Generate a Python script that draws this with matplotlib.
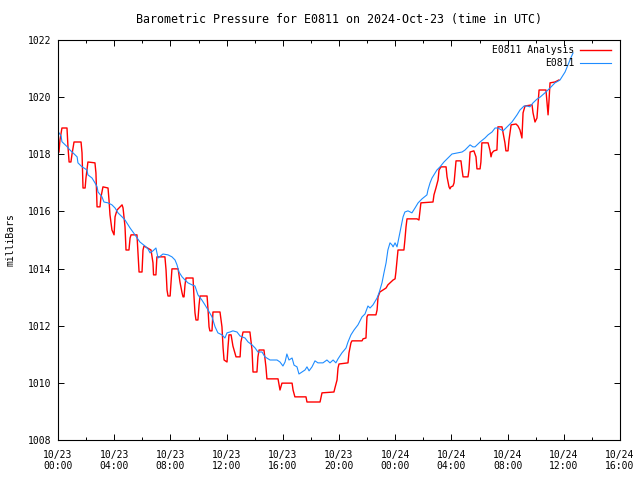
import matplotlib
matplotlib.use("Agg")
import matplotlib.pyplot as plt

# E0811 observed pressure (hours since 10/23 00:00 UTC, mb)
obs_hours = [0.07, 0.22, 0.28, 0.64, 0.85, 1.07, 1.36, 1.42, 1.71, 1.85,
             2.06, 2.13, 2.42, 2.63, 2.78, 2.85, 3.13, 3.27, 3.56, 3.84,
             4.06, 4.27, 4.56, 4.77, 5.13, 5.48, 5.83, 6.19, 6.40, 6.55,
             6.76, 6.97, 7.12, 7.47, 7.83, 8.11, 8.33, 8.47, 8.61, 8.83,
             9.04, 9.25, 9.54, 9.75, 9.96, 10.24, 10.46, 10.68, 10.96, 11.18,
             11.38, 11.67, 11.88, 12.03, 12.24, 12.45, 12.74, 12.96, 13.31, 13.53,
             13.81, 14.03, 14.23, 14.52, 14.73, 15.09, 15.59, 15.80, 16.01, 16.16,
             16.29, 16.44, 16.66, 16.80, 17.01, 17.15, 17.37, 17.58, 17.72, 17.87,
             18.08, 18.29, 18.50, 18.86, 19.14, 19.36, 19.58, 19.78, 19.93, 20.21,
             20.50, 20.64, 20.85, 21.07, 21.35, 21.64, 21.85, 22.06, 22.21, 22.42,
             22.71, 22.85, 23.06, 23.20, 23.35, 23.48, 23.63, 23.77, 23.85, 23.99,
             24.13, 24.20, 24.34, 24.56, 24.69, 24.91, 25.19, 25.41, 25.63, 25.91,
             26.26, 26.33, 26.48, 26.62, 26.97, 27.19, 27.47, 27.76, 28.04, 28.47,
             28.76, 28.97, 29.33, 29.53, 29.68, 30.04, 30.39, 30.61, 30.89, 31.11,
             31.31, 31.68, 31.96, 32.31, 32.67, 32.88, 33.17, 33.39, 33.59, 33.81,
             34.09, 34.31, 34.66, 35.02, 35.37, 35.73, 36.09, 36.44, 36.66]
obs_mb = [1018.75, 1018.64, 1018.44, 1018.27, 1018.15, 1018.05, 1017.91, 1017.70, 1017.56, 1017.52,
          1017.45, 1017.28, 1017.17, 1017.00, 1016.86, 1016.68, 1016.51, 1016.33, 1016.30, 1016.23,
          1016.12, 1015.95, 1015.81, 1015.70, 1015.42, 1015.18, 1014.93, 1014.79, 1014.69, 1014.55,
          1014.62, 1014.72, 1014.37, 1014.51, 1014.48, 1014.41, 1014.30, 1014.13, 1013.88, 1013.71,
          1013.60, 1013.50, 1013.43, 1013.39, 1013.08, 1012.90, 1012.73, 1012.55, 1012.31, 1011.96,
          1011.75, 1011.68, 1011.57, 1011.75, 1011.78, 1011.82, 1011.78, 1011.64, 1011.57, 1011.43,
          1011.33, 1011.22, 1011.08, 1011.08, 1010.91, 1010.80, 1010.80, 1010.73, 1010.59, 1010.73,
          1011.01, 1010.80, 1010.87, 1010.62, 1010.56, 1010.31, 1010.38, 1010.45, 1010.56, 1010.42,
          1010.56, 1010.77, 1010.70, 1010.70, 1010.80, 1010.70, 1010.80, 1010.70, 1010.84, 1011.05,
          1011.22, 1011.43, 1011.68, 1011.85, 1012.03, 1012.31, 1012.41, 1012.69, 1012.62, 1012.73,
          1012.97, 1013.15, 1013.50, 1013.85, 1014.20, 1014.65, 1014.90, 1014.83, 1014.76, 1014.90,
          1014.76, 1014.93, 1015.28, 1015.81, 1015.98, 1016.02, 1015.95, 1016.12, 1016.30, 1016.44,
          1016.58, 1016.75, 1017.00, 1017.17, 1017.45, 1017.56, 1017.73, 1017.87, 1018.01, 1018.05,
          1018.08, 1018.15, 1018.33, 1018.26, 1018.26, 1018.43, 1018.57, 1018.68, 1018.78, 1018.92,
          1018.92, 1018.82, 1018.96, 1019.13, 1019.38, 1019.55, 1019.69, 1019.69, 1019.66, 1019.80,
          1019.93, 1020.00, 1020.15, 1020.32, 1020.50, 1020.60, 1020.88, 1021.30, 1021.55]

# E0811 analysis (stepped)
ana_hours = [0.07, 0.14, 0.28, 0.64, 0.71, 0.79, 0.92, 0.99, 1.14, 1.64,
             1.71, 1.78, 1.93, 1.99, 2.13, 2.63, 2.70, 2.78, 2.99, 3.06,
             3.20, 3.56, 3.63, 3.70, 3.84, 3.99, 4.06, 4.20, 4.56, 4.63,
             4.77, 4.84, 5.05, 5.13, 5.20, 5.62, 5.70, 5.77, 5.98, 6.05,
             6.12, 6.62, 6.76, 6.80, 6.97, 7.04, 7.61, 7.69, 7.76, 7.83,
             7.98, 8.04, 8.11, 8.55, 8.68, 8.83, 8.90, 8.97, 9.04, 9.11,
             9.61, 9.68, 9.75, 9.82, 9.96, 10.04, 10.11, 10.61, 10.68, 10.75,
             10.81, 10.96, 11.03, 11.53, 11.67, 11.75, 11.82, 12.03, 12.10, 12.17,
             12.32, 12.45, 12.67, 12.96, 13.02, 13.17, 13.66, 13.81, 13.88, 14.16,
             14.23, 14.31, 14.66, 14.80, 14.87, 15.66, 15.80, 15.94, 16.66, 16.73,
             16.86, 17.65, 17.72, 18.65, 18.79, 19.64, 19.71, 19.86, 19.93, 20.00,
             20.64, 20.71, 20.85, 20.92, 21.64, 21.71, 21.92, 21.99, 22.06, 22.63,
             22.71, 22.78, 22.91, 23.13, 23.35, 23.48, 23.70, 23.85, 23.99, 24.05,
             24.13, 24.20, 24.62, 24.69, 24.77, 24.84, 25.55, 25.69, 25.83, 26.69,
             26.76, 26.90, 27.05, 27.12, 27.26, 27.62, 27.69, 27.83, 27.90, 27.97,
             28.11, 28.19, 28.33, 28.68, 28.76, 28.83, 29.18, 29.25, 29.33, 29.60,
             29.75, 29.82, 30.04, 30.10, 30.17, 30.61, 30.74, 30.82, 30.89, 31.03,
             31.24, 31.28, 31.31, 31.60, 31.68, 31.81, 31.88, 32.03, 32.10, 32.25,
             32.60, 32.74, 32.88, 33.02, 33.10, 33.24, 33.74, 33.81, 33.95, 34.09,
             34.16, 34.24, 34.73, 34.80, 34.88, 34.95, 35.02, 35.37, 35.65]
ana_mb = [1018.08, 1018.50, 1018.92, 1018.92, 1018.26, 1017.73, 1017.73, 1017.98, 1018.43, 1018.43,
          1018.05, 1016.82, 1016.82, 1017.17, 1017.73, 1017.70, 1017.35, 1016.16, 1016.16, 1016.51,
          1016.86, 1016.82, 1016.40, 1015.88, 1015.35, 1015.18, 1015.81, 1016.05, 1016.23, 1016.12,
          1015.46, 1014.65, 1014.65, 1015.07, 1015.18, 1015.18, 1014.48, 1013.88, 1013.88, 1014.65,
          1014.79, 1014.65, 1014.20, 1013.78, 1013.78, 1014.41, 1014.41, 1013.95, 1013.25, 1013.04,
          1013.04, 1013.50, 1013.99, 1013.99, 1013.53, 1013.15, 1013.01, 1013.01, 1013.43, 1013.67,
          1013.67, 1013.01, 1012.45, 1012.20, 1012.20, 1012.73, 1013.04, 1013.04, 1012.55, 1011.96,
          1011.82, 1011.82, 1012.48, 1012.48, 1011.96, 1011.22, 1010.80, 1010.73, 1011.26, 1011.68,
          1011.68, 1011.29, 1010.91, 1010.91, 1011.43, 1011.78, 1011.78, 1011.15, 1010.38, 1010.38,
          1010.91, 1011.15, 1011.15, 1010.56, 1010.14, 1010.14, 1009.75, 1009.99, 1009.99, 1009.75,
          1009.51, 1009.51, 1009.33, 1009.33, 1009.65, 1009.68, 1009.82, 1010.10, 1010.52, 1010.66,
          1010.70, 1011.05, 1011.40, 1011.47, 1011.47, 1011.54, 1011.57, 1012.31, 1012.38, 1012.38,
          1012.55, 1013.01, 1013.18, 1013.25, 1013.32, 1013.43, 1013.53, 1013.60, 1013.64, 1013.88,
          1014.30, 1014.65, 1014.65, 1015.00, 1015.46, 1015.74, 1015.74, 1015.70, 1016.30, 1016.33,
          1016.58, 1016.82, 1017.10, 1017.45, 1017.56, 1017.56, 1017.21, 1016.86, 1016.79, 1016.86,
          1016.89, 1017.00, 1017.77, 1017.77, 1017.45, 1017.21, 1017.21, 1017.45, 1018.08, 1018.12,
          1017.91, 1017.49, 1017.49, 1017.73, 1018.40, 1018.40, 1018.15, 1017.91, 1018.05, 1018.12,
          1018.15, 1018.61, 1018.96, 1018.96, 1018.75, 1018.40, 1018.12, 1018.12, 1018.50, 1019.03,
          1019.06, 1018.99, 1018.85, 1018.57, 1019.45, 1019.69, 1019.73, 1019.45, 1019.13, 1019.27,
          1019.73, 1020.25, 1020.25, 1019.83, 1019.38, 1019.90, 1020.50, 1020.53, 1020.60]

tick_hours = [0, 4, 8, 12, 16, 20, 24, 28, 32, 36, 40]
tick_labels = ["10/23\n00:00", "10/23\n04:00", "10/23\n08:00", "10/23\n12:00",
               "10/23\n16:00", "10/23\n20:00", "10/24\n00:00", "10/24\n04:00",
               "10/24\n08:00", "10/24\n12:00", "10/24\n16:00"]
minor_hours = list(range(0, 41, 2))
y_ticks = [1008, 1010, 1012, 1014, 1016, 1018, 1020, 1022]

plt.rcParams['font.family'] = ['DejaVu Sans Mono']
plt.rcParams['font.size'] = 7

fig = plt.figure(figsize=(6.4, 4.8), dpi=100)
ax = fig.add_axes([58 / 640, 40 / 480, 562 / 640, 400 / 480])

ax.plot(ana_hours, ana_mb, color='#ff0000', lw=1.0, label='E0811 Analysis')
ax.plot(obs_hours, obs_mb, color='#1e8cff', lw=0.8, label='E0811')

ax.set_xlim(0, 40)
ax.set_ylim(1008, 1022)
ax.set_xticks(tick_hours)
ax.set_xticklabels(tick_labels)
ax.set_xticks(minor_hours, minor=True)
ax.set_yticks(y_ticks)
ax.tick_params(which='major', direction='in', top=True, right=True, length=4.5, width=0.7)
ax.tick_params(which='minor', direction='in', top=True, right=True, length=2.5, width=0.7)
ax.tick_params(axis='x', pad=7)
ax.tick_params(axis='y', pad=5)
for s in ax.spines.values():
    s.set_linewidth(0.8)

ax.set_ylabel('milliBars', labelpad=9)
ax.set_title('Barometric Pressure for E0811 on 2024-Oct-23 (time in UTC)', pad=12.5)

ax.legend(loc='upper right', bbox_to_anchor=(0.99, 0.995), frameon=False, markerfirst=False,
          handlelength=3.2, handletextpad=0.6, labelspacing=0.35, borderaxespad=0.0,
          borderpad=0.3)

fig.savefig('out.png', dpi=100)
